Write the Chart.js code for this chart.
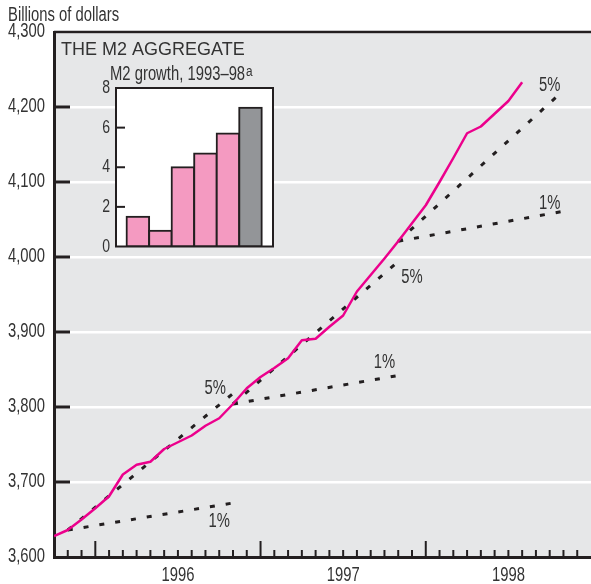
<!DOCTYPE html>
<html>
<head>
<meta charset="utf-8">
<script src="https://cdn.jsdelivr.net/npm/chart.js@4.4.1/dist/chart.umd.min.js"></script>
<style>
html,body{margin:0;padding:0;background:#fff;}
#wrap{position:relative;width:591px;height:584px;}
#main{position:absolute;left:0;top:0;}
#inset{position:absolute;left:90px;top:72px;}
</style>
</head>
<body>
<div id="wrap">
<canvas id="main" width="591" height="584"></canvas>
<canvas id="inset" width="190" height="200"></canvas>
</div>
<script>
'use strict';
// no condensed face is installed, so the narrow type is Liberation Sans squeezed sideways
const SANS = '"Liberation Sans",Arial,sans-serif';
const SQUEEZE = 0.76, NARROW_SIZE = 19.5;

// monthly M2 level, billions of dollars
const months = ['1995-10','1995-11','1995-12',
  '1996-01','1996-02','1996-03','1996-04','1996-05','1996-06','1996-07','1996-08','1996-09','1996-10','1996-11','1996-12',
  '1997-01','1997-02','1997-03','1997-04','1997-05','1997-06','1997-07','1997-08','1997-09','1997-10','1997-11','1997-12',
  '1998-01','1998-02','1998-03','1998-04','1998-05','1998-06','1998-07','1998-08'];
const m2Level = [3628,3636,3650,
  3665,3681,3710,3723,3727,3744,3753,3762,3775,3785,3804,3825,
  3840,3852,3865,3889,3891,3907,3922,3954,3976,3998,4021,4045,
  4069,4100,4132,4165,4174,4191,4208,4233];

// 1% and 5% growth paths, each over twelve months
const trendFrom = ['1995-11','1996-11','1997-11'];
const trendTo = ['1996-11','1997-11','1998-11'];
const trendBase = [3636,3804,4021];
const trendEnd1 = [3672,3842,4061];
const trendEnd5 = [3818,3994,4222];

const axisFrom = '1995-10', axisTo = '1999-01';
const years = ['1996','1997','1998'];
const yTicks = [3600,3700,3800,3900,4000,4100,4200,4300];

// inset: M2 growth, percent
const growthYears = ['1993','1994','1995','1996','1997','1998'];
const growthRate = [1.5,0.8,4.0,4.7,5.7,7.0];

function monthIndex(s) {
  const [yr, mo] = s.split('-').map(Number);
  return (yr - 1995) * 12 + (mo - 10);
}

function narrowText(ctx, text, x, y, align, baseline, size) {
  ctx.save();
  ctx.font = (size || NARROW_SIZE) + 'px ' + SANS;
  ctx.textAlign = align; ctx.textBaseline = baseline;
  ctx.translate(x, y); ctx.scale(SQUEEZE, 1);
  ctx.fillText(text, 0, 0);
  const w = ctx.measureText(text).width * SQUEEZE;
  ctx.restore();
  return w;
}

// growth labels: text, month position, value
const notes = [
  ['1%', 12.0, 3647], ['5%', 11.7, 3825],
  ['1%', 24.0, 3859], ['5%', 26.0, 3973],
  ['1%', 36.0, 4071], ['5%', 36.0, 4228]
];

const datasets = [{
  data: months.map((m,i) => ({x: monthIndex(m), y: m2Level[i]})),
  borderColor: '#ec008c', borderWidth: 2.5, pointRadius: 0, tension: 0, borderJoinStyle: 'round'
}];
trendFrom.forEach((f,i) => {
  [trendEnd1, trendEnd5].forEach(end => datasets.push({
    data: [{x: monthIndex(f), y: trendBase[i]}, {x: monthIndex(trendTo[i]), y: end[i]}],
    borderColor: '#231f20', borderWidth: 3, borderDash: [5,11], pointRadius: 0
  }));
});

const frame = {
  id: 'frame',
  beforeDraw(c) {
    const {ctx, chartArea: a} = c;
    ctx.save(); ctx.fillStyle = '#e6e7e8';
    ctx.fillRect(a.left, a.top, a.right - a.left, a.bottom - a.top);
    ctx.restore();
  },
  afterDraw(c) {
    const {ctx, chartArea: a, scales: {x, y}} = c;
    ctx.save();
    ctx.strokeStyle = '#231f20';
    ctx.lineWidth = 2.5;
    ctx.beginPath(); ctx.moveTo(a.left, a.top); ctx.lineTo(a.right, a.top); ctx.stroke();
    ctx.lineWidth = 3;
    yTicks.forEach(v => {
      if (v <= y.min || v >= y.max) return;
      const py = y.getPixelForValue(v);
      ctx.beginPath(); ctx.moveTo(a.left, py); ctx.lineTo(a.left + 16, py); ctx.stroke();
    });
    ctx.lineWidth = 2;
    const jan = monthIndex('1996-01');
    for (let k = x.min + 1; k < x.max; k++) {
      const px = x.getPixelForValue(k), len = (k - jan) % 12 === 0 ? 16 : 7;
      ctx.beginPath(); ctx.moveTo(px, a.bottom); ctx.lineTo(px, a.bottom - len); ctx.stroke();
    }
    ctx.fillStyle = '#333';
    y.ticks.forEach((t,i) => narrowText(ctx, t.label, a.left - 9, y.getPixelForTick(i), 'right', 'middle'));
    x.ticks.forEach((t,i) => { if (t.label) narrowText(ctx, t.label, x.getPixelForTick(i), x.top + 18.5, 'center', 'middle'); });
    narrowText(ctx, 'Billions of dollars', 8, 21, 'left', 'alphabetic');
    ctx.font = '18px ' + SANS;
    ctx.textAlign = 'left'; ctx.textBaseline = 'alphabetic';
    ctx.fillText('THE M2 AGGREGATE', 61, 54.5);
    const w = narrowText(ctx, 'M2 growth, 1993\u201398', 110, 79.5, 'left', 'alphabetic');
    narrowText(ctx, 'a', 110 + w + 1, 75.5, 'left', 'alphabetic', 15.5);
    notes.forEach(([t, k, v]) => narrowText(ctx, t, x.getPixelForValue(k), y.getPixelForValue(v), 'center', 'middle'));
    ctx.restore();
  }
};

new Chart(document.getElementById('main'), {
  type: 'line',
  data: {datasets},
  options: {
    responsive: false, animation: false, events: [],
    layout: {autoPadding: false, padding: {top: 32, right: 0, bottom: 0, left: 0}},
    plugins: {legend: {display: false}, tooltip: {enabled: false}},
    scales: {
      x: {
        type: 'linear', min: monthIndex(axisFrom), max: monthIndex(axisTo),
        grid: {display: false, drawTicks: false},
        border: {display: true, color: '#231f20', width: 3},
        ticks: {
          stepSize: 1, autoSkip: false, maxRotation: 0, padding: 0, color: 'rgba(0,0,0,0)',
          callback: v => { const i = years.findIndex(yr => monthIndex(yr + '-07') === v); return i < 0 ? '' : years[i]; }
        },
        afterFit(s) { s.height = 27; s.paddingLeft = 0; s.paddingRight = 0; }
      },
      y: {
        min: yTicks[0], max: yTicks[yTicks.length - 1],
        grid: {color: '#fff', lineWidth: 2.5, drawTicks: false},
        border: {display: true, color: '#231f20', width: 3},
        ticks: {stepSize: 100, color: 'rgba(0,0,0,0)', callback: v => v.toLocaleString('en-US')},
        afterFit(s) { s.width = 54; }
      }
    }
  },
  plugins: [frame]
});

const insetBox = {
  id: 'insetBox',
  beforeDraw(c) {
    const {ctx, chartArea: a} = c;
    ctx.save(); ctx.fillStyle = '#fff';
    ctx.fillRect(a.left, a.top, a.right - a.left, a.bottom - a.top);
    ctx.restore();
  },
  afterDraw(c) {
    const {ctx, chartArea: a, scales: {y}} = c;
    ctx.save();
    ctx.strokeStyle = '#231f20'; ctx.lineWidth = 2;
    ctx.strokeRect(a.left, a.top, a.right - a.left, a.bottom - a.top);
    [2,4,6].forEach(v => {
      const py = y.getPixelForValue(v);
      ctx.beginPath(); ctx.moveTo(a.left, py); ctx.lineTo(a.left + 9, py); ctx.stroke();
    });
    ctx.fillStyle = '#333';
    y.ticks.forEach((t,i) => narrowText(ctx, t.label, a.left - 6, y.getPixelForTick(i), 'right', 'middle', 18.5));
    ctx.restore();
  }
};

new Chart(document.getElementById('inset'), {
  type: 'bar',
  data: {datasets: [{
    data: growthYears.map((g,i) => ({x: i, y: growthRate[i]})),
    backgroundColor: growthYears.map((g,i) => i === growthYears.length - 1 ? '#939598' : '#f49ac1'),
    borderColor: '#231f20', borderWidth: 2, borderSkipped: false, inflateAmount: 1,
    categoryPercentage: 1, barPercentage: 1
  }]},
  options: {
    responsive: false, animation: false, events: [],
    layout: {autoPadding: false, padding: {top: 16, right: 7, bottom: 25.5, left: 0}},
    plugins: {legend: {display: false}, tooltip: {enabled: false}},
    scales: {
      x: {type: 'linear', min: -0.97, max: 6.0, offset: false, display: false},
      y: {
        min: 0, max: 8,
        grid: {display: false, drawTicks: false},
        border: {display: false},
        ticks: {stepSize: 2, color: 'rgba(0,0,0,0)'},
        afterFit(s) { s.width = 26; }
      }
    }
  },
  plugins: [insetBox]
});
</script>
</body>
</html>
